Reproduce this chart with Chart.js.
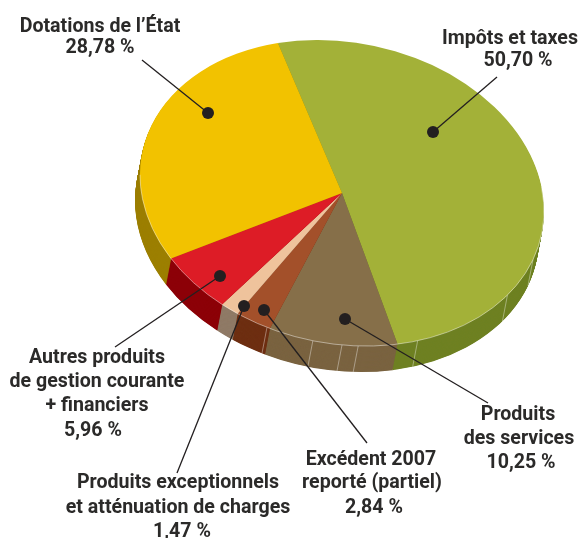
<!DOCTYPE html>
<html><head><meta charset="utf-8">
<style>html,body{margin:0;padding:0;background:#fff}canvas{display:block}</style>
<script src="https://cdn.jsdelivr.net/npm/chart.js@4"></script>
</head><body><canvas id="c" width="581" height="538"></canvas>
<script>
const categories = ["Impôts et taxes","Produits des services","Excédent 2007 reporté (partiel)","Produits exceptionnels et atténuation de charges","Autres produits de gestion courante + financiers","Dotations de l’État"];
const values = [50.70,10.25,2.84,1.47,5.96,28.78];
const topColors = ["#a3b138","#866f49","#a3502a","#efc39c","#dd1c26","#f2c200"];
const sideColors = ["#6f8023","#7a6340","#6e2f12","#8f7a66","#8c0007","#9c7f00"];
const facetAngles = [109,125,158,175.4,180,188.3,201.8];
const labelLines = [
 ["Dotations de l’État",100,32],["28,78 %",100,53],
 ["Impôts et taxes",510,44],["50,70 %",518,66],
 ["Autres produits",97,363],["de gestion courante",97,387],["+ financiers",97,411],["5,96 %",93,436],
 ["Produits exceptionnels",178,488],["et atténuation de charges",178,513],["1,47 %",182,537],
 ["Excédent 2007",371,465],["reporté (partiel)",372,488],["2,84 %",374,513],
 ["Produits",518,420],["des services",519,444],["10,25 %",521,468]
];
const leaders = [
 [208,113,142,60],[433,132,497,77],[220,276,115,347],[244,306,177,473],[264,310,367,443],[345,319,488,403]
];
const CX=342,CY=193,R=202,SQ=152/202,SHEAR=0.09,DX=-5,DY=26;
function face(ctx,px,py,ox,oy){
  ctx.transform(1,SHEAR,0,SQ,CX+ox,CY+oy);
  ctx.translate(-px,-py);
}
const pie3d={
 id:'pie3d',
 beforeDatasetDraw(chart,args){
  const ctx=chart.ctx,meta=args.meta,arcs=meta.data,px=arcs[0].x,py=arcs[0].y;
  for(let d=DY;d>=1;d-=0.5){
    ctx.save();
    face(ctx,px,py,DX*d/DY,d);
    arcs.forEach((a,i)=>{
      const o=a.options;
      a.options=Object.create(o,{backgroundColor:{value:sideColors[i]},borderWidth:{value:0}});
      a.draw(ctx);
      a.options=o;
    });
    ctx.restore();
  }
  ctx.save();
  ctx.strokeStyle='rgba(255,255,255,0.38)';ctx.lineWidth=1;
  facetAngles.forEach(t=>{
    const r=t*Math.PI/180,u=R*Math.sin(r),v=-R*Math.cos(r);
    const x=CX+u,y=CY+SHEAR*u+SQ*v;
    ctx.beginPath();ctx.moveTo(x,y);ctx.lineTo(x+DX,y+DY);ctx.stroke();
  });
  ctx.restore();
  ctx.save();
  face(ctx,px,py,0,0);
 },
 afterDatasetDraw(chart,args){
  const ctx=chart.ctx,a=args.meta.data[0];
  ctx.strokeStyle='rgba(255,255,255,0.55)';ctx.lineWidth=0.9;
  ctx.beginPath();ctx.arc(a.x,a.y,R,-0.05*Math.PI,1.0*Math.PI);ctx.stroke();
  ctx.restore();
 },
 afterDraw(chart){
  const ctx=chart.ctx;
  ctx.save();
  ctx.strokeStyle='#231f20';ctx.fillStyle='#231f20';ctx.lineWidth=1.3;
  leaders.forEach(l=>{
    ctx.beginPath();ctx.moveTo(l[0],l[1]);ctx.lineTo(l[2],l[3]);ctx.stroke();
    ctx.beginPath();ctx.arc(l[0],l[1],6,0,2*Math.PI);ctx.fill();
  });
  ctx.fillStyle='#2b2a29';ctx.textAlign='center';ctx.textBaseline='alphabetic';
  ctx.font='700 19.6px Roboto, sans-serif';
  labelLines.forEach(t=>ctx.fillText(t[0],t[1],t[2]));
  ctx.restore();
 }
};
new Chart(document.getElementById('c'),{
 type:'pie',
 data:{labels:categories,datasets:[{data:values,backgroundColor:topColors,borderWidth:0,radius:R,clip:false}]},
 options:{responsive:false,animation:false,rotation:-18.5,layout:{padding:0},
  plugins:{legend:{display:false},tooltip:{enabled:false},title:{display:false}}},
 plugins:[pie3d]
});
</script></body></html>
